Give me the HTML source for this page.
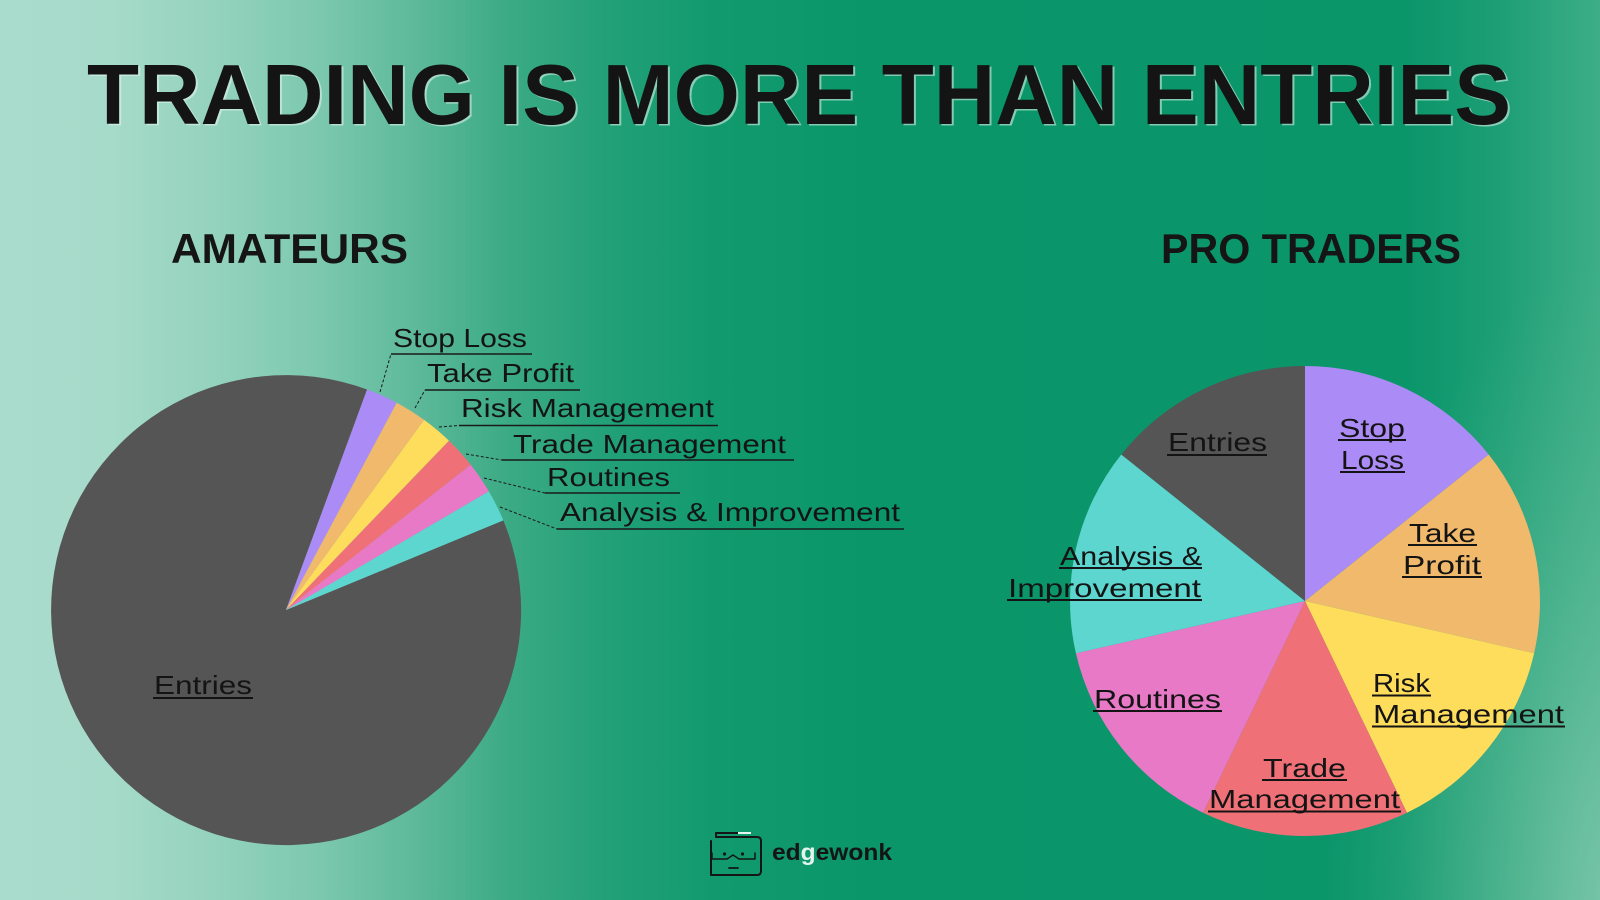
<!DOCTYPE html>
<html>
<head>
<meta charset="utf-8">
<style>
  html,body{margin:0;padding:0;}
  body{width:1600px;height:900px;overflow:hidden;}
  svg{display:block;}
  text{font-family:"Liberation Sans", sans-serif;}
</style>
</head>
<body>
<svg width="1600" height="900" viewBox="0 0 1600 900" xmlns="http://www.w3.org/2000/svg">
  <defs>
    <linearGradient id="bg" x1="0" y1="0" x2="1600" y2="0" gradientUnits="userSpaceOnUse">
      <stop offset="0" stop-color="#aadccd"/>
      <stop offset="0.07" stop-color="#a6dac9"/>
      <stop offset="0.14" stop-color="#92d2bd"/>
      <stop offset="0.20" stop-color="#7cc8af"/>
      <stop offset="0.26" stop-color="#5db99a"/>
      <stop offset="0.32" stop-color="#3aaa84"/>
      <stop offset="0.38" stop-color="#22a077"/>
      <stop offset="0.45" stop-color="#119a6d"/>
      <stop offset="0.55" stop-color="#0a9669"/>
      <stop offset="0.88" stop-color="#0b966a"/>
      <stop offset="0.94" stop-color="#1f9f76"/>
      <stop offset="1" stop-color="#3dae87"/>
    </linearGradient>
    <radialGradient id="br" cx="1640" cy="920" r="420" gradientUnits="userSpaceOnUse" gradientTransform="translate(1640 920) scale(0.75 1.6) translate(-1640 -920)">
      <stop offset="0" stop-color="#86cbb0" stop-opacity="0.95"/>
      <stop offset="0.5" stop-color="#6cc0a0" stop-opacity="0.5"/>
      <stop offset="1" stop-color="#4fb690" stop-opacity="0"/>
    </radialGradient>
  </defs>

  <rect width="1600" height="900" fill="url(#bg)"/>
  <rect width="1600" height="900" fill="url(#br)"/>

  <!-- Title -->
  <text x="89" y="125.5" font-size="85" font-weight="bold" fill="#e6f5ee" fill-opacity="0.55" textLength="1424" lengthAdjust="spacingAndGlyphs">TRADING IS MORE THAN ENTRIES</text>
  <text x="87" y="124" font-size="85" font-weight="bold" fill="#141414" textLength="1424" lengthAdjust="spacingAndGlyphs">TRADING IS MORE THAN ENTRIES</text>

  <!-- Sub headers -->
  <text x="171" y="263" font-size="42" font-weight="bold" fill="#151515" textLength="237" lengthAdjust="spacingAndGlyphs">AMATEURS</text>
  <text x="1161" y="263" font-size="42" font-weight="bold" fill="#151515" textLength="300" lengthAdjust="spacingAndGlyphs">PRO TRADERS</text>

  <!-- Left pie -->
  <g>
    <path d="M286,610 L503.3,520.4 A235,235 0 1 1 367.1,389.5 Z" fill="#555555"/>
    <path d="M286,610 L367.1,389.5 A235,235 0 0 1 396.7,402.7 Z" fill="#ab8bf5"/>
    <path d="M286,610 L396.7,402.7 A235,235 0 0 1 424.1,419.9 Z" fill="#f0b96b"/>
    <path d="M286,610 L424.1,419.9 A235,235 0 0 1 449.0,440.7 Z" fill="#fedc5c"/>
    <path d="M286,610 L449.0,440.7 A235,235 0 0 1 470.7,464.7 Z" fill="#ef7177"/>
    <path d="M286,610 L470.7,464.7 A235,235 0 0 1 488.9,491.4 Z" fill="#e779c6"/>
    <path d="M286,610 L488.9,491.4 A235,235 0 0 1 503.3,520.4 Z" fill="#5dd6d0"/>
  </g>

  <!-- Left leaders -->
  <g stroke="#1a1a1a" stroke-width="1" fill="none" stroke-dasharray="3,2">
    <line x1="380" y1="392" x2="391" y2="354"/>
    <line x1="415" y1="408" x2="425" y2="390"/>
    <line x1="439" y1="427" x2="459" y2="425.5"/>
    <line x1="466" y1="454" x2="502" y2="460"/>
    <line x1="484" y1="478" x2="545" y2="493"/>
    <line x1="500" y1="507" x2="557" y2="529"/>
  </g>
  <g stroke="#1a1a1a" stroke-width="1.5" fill="none">
    <line x1="391" y1="354" x2="532" y2="354"/>
    <line x1="425" y1="390" x2="580" y2="390"/>
    <line x1="459" y1="425.5" x2="718" y2="425.5"/>
    <line x1="502" y1="460" x2="794" y2="460"/>
    <line x1="545" y1="493" x2="680" y2="493"/>
    <line x1="557" y1="529" x2="904" y2="529"/>
  </g>
  <g font-size="26" fill="#141414">
    <text x="393" y="347" textLength="134" lengthAdjust="spacingAndGlyphs">Stop Loss</text>
    <text x="427" y="382" textLength="147" lengthAdjust="spacingAndGlyphs">Take Profit</text>
    <text x="461" y="417" textLength="253" lengthAdjust="spacingAndGlyphs">Risk Management</text>
    <text x="513" y="453" textLength="273" lengthAdjust="spacingAndGlyphs">Trade Management</text>
    <text x="547" y="486" textLength="123" lengthAdjust="spacingAndGlyphs">Routines</text>
    <text x="560" y="521" textLength="340" lengthAdjust="spacingAndGlyphs">Analysis &amp; Improvement</text>
    <text x="154" y="694" textLength="98" lengthAdjust="spacingAndGlyphs">Entries</text>
  </g>
  <line x1="153" y1="698" x2="253" y2="698" stroke="#141414" stroke-width="2"/>

  <!-- Right pie -->
  <g>
    <path d="M1305,601 L1305,366 A235,235 0 0 1 1488.7,454.5 Z" fill="#ab8bf5"/>
    <path d="M1305,601 L1488.7,454.5 A235,235 0 0 1 1534.1,653.3 Z" fill="#f0b96b"/>
    <path d="M1305,601 L1534.1,653.3 A235,235 0 0 1 1407.0,812.7 Z" fill="#fedc5c"/>
    <path d="M1305,601 L1407.0,812.7 A235,235 0 0 1 1203.0,812.7 Z" fill="#ef7177"/>
    <path d="M1305,601 L1203.0,812.7 A235,235 0 0 1 1075.9,653.3 Z" fill="#e779c6"/>
    <path d="M1305,601 L1075.9,653.3 A235,235 0 0 1 1121.3,454.5 Z" fill="#5dd6d0"/>
    <path d="M1305,601 L1121.3,454.5 A235,235 0 0 1 1305,366 Z" fill="#555555"/>
  </g>

  <g font-size="26" fill="#141414">
    <text x="1168" y="451" textLength="99" lengthAdjust="spacingAndGlyphs">Entries</text>
    <text x="1339" y="437" textLength="66" lengthAdjust="spacingAndGlyphs">Stop</text>
    <text x="1341" y="469" textLength="63" lengthAdjust="spacingAndGlyphs">Loss</text>
    <text x="1409" y="542" textLength="67" lengthAdjust="spacingAndGlyphs">Take</text>
    <text x="1403" y="574" textLength="78" lengthAdjust="spacingAndGlyphs">Profit</text>
    <text x="1373" y="692" textLength="57" lengthAdjust="spacingAndGlyphs">Risk</text>
    <text x="1373" y="723" textLength="191" lengthAdjust="spacingAndGlyphs">Management</text>
    <text x="1263" y="777" textLength="83" lengthAdjust="spacingAndGlyphs">Trade</text>
    <text x="1209" y="808" textLength="191" lengthAdjust="spacingAndGlyphs">Management</text>
    <text x="1094" y="708" textLength="127" lengthAdjust="spacingAndGlyphs">Routines</text>
    <text x="1060" y="565" textLength="142" lengthAdjust="spacingAndGlyphs">Analysis &amp;</text>
    <text x="1008" y="597" textLength="193" lengthAdjust="spacingAndGlyphs">Improvement</text>
  </g>
  <g stroke="#141414" stroke-width="2">
    <line x1="1167" y1="455" x2="1267" y2="455"/>
    <line x1="1338" y1="440" x2="1406" y2="440"/>
    <line x1="1340" y1="472" x2="1405" y2="472"/>
    <line x1="1408" y1="545" x2="1477" y2="545"/>
    <line x1="1402" y1="577" x2="1482" y2="577"/>
    <line x1="1372" y1="695.5" x2="1431" y2="695.5"/>
    <line x1="1372" y1="726.5" x2="1565" y2="726.5"/>
    <line x1="1262" y1="780" x2="1347" y2="780"/>
    <line x1="1208" y1="811.5" x2="1401" y2="811.5"/>
    <line x1="1093" y1="711" x2="1222" y2="711"/>
    <line x1="1059" y1="568" x2="1202" y2="568"/>
    <line x1="1007" y1="600" x2="1202" y2="600"/>
  </g>

  <!-- Logo -->
  <g fill="none" stroke="#151515" stroke-width="2" stroke-linejoin="round" stroke-linecap="round">
    <path d="M716,833 H738"/>
    <path d="M716,833 V837 H757 Q761,837 761,841 V871 Q761,875 757,875 H711 V841"/>
    <path d="M712,853 V859 H727 L733,855 L739,859 H755 V853" stroke-width="1.5"/>
    <path d="M729,868 H738" stroke-width="1.8"/>
  </g>
  <line x1="738" y1="833" x2="751" y2="833" stroke="#e8f6f0" stroke-width="2"/>
  <circle cx="724.5" cy="854" r="1.6" fill="#151515"/>
  <circle cx="742.5" cy="854" r="1.6" fill="#151515"/>
  <text x="772" y="860" font-size="23" font-weight="bold" fill="#151515" textLength="120" lengthAdjust="spacingAndGlyphs">ed<tspan fill="#e4f4ee">g</tspan>ewonk</text>
</svg>
</body>
</html>
